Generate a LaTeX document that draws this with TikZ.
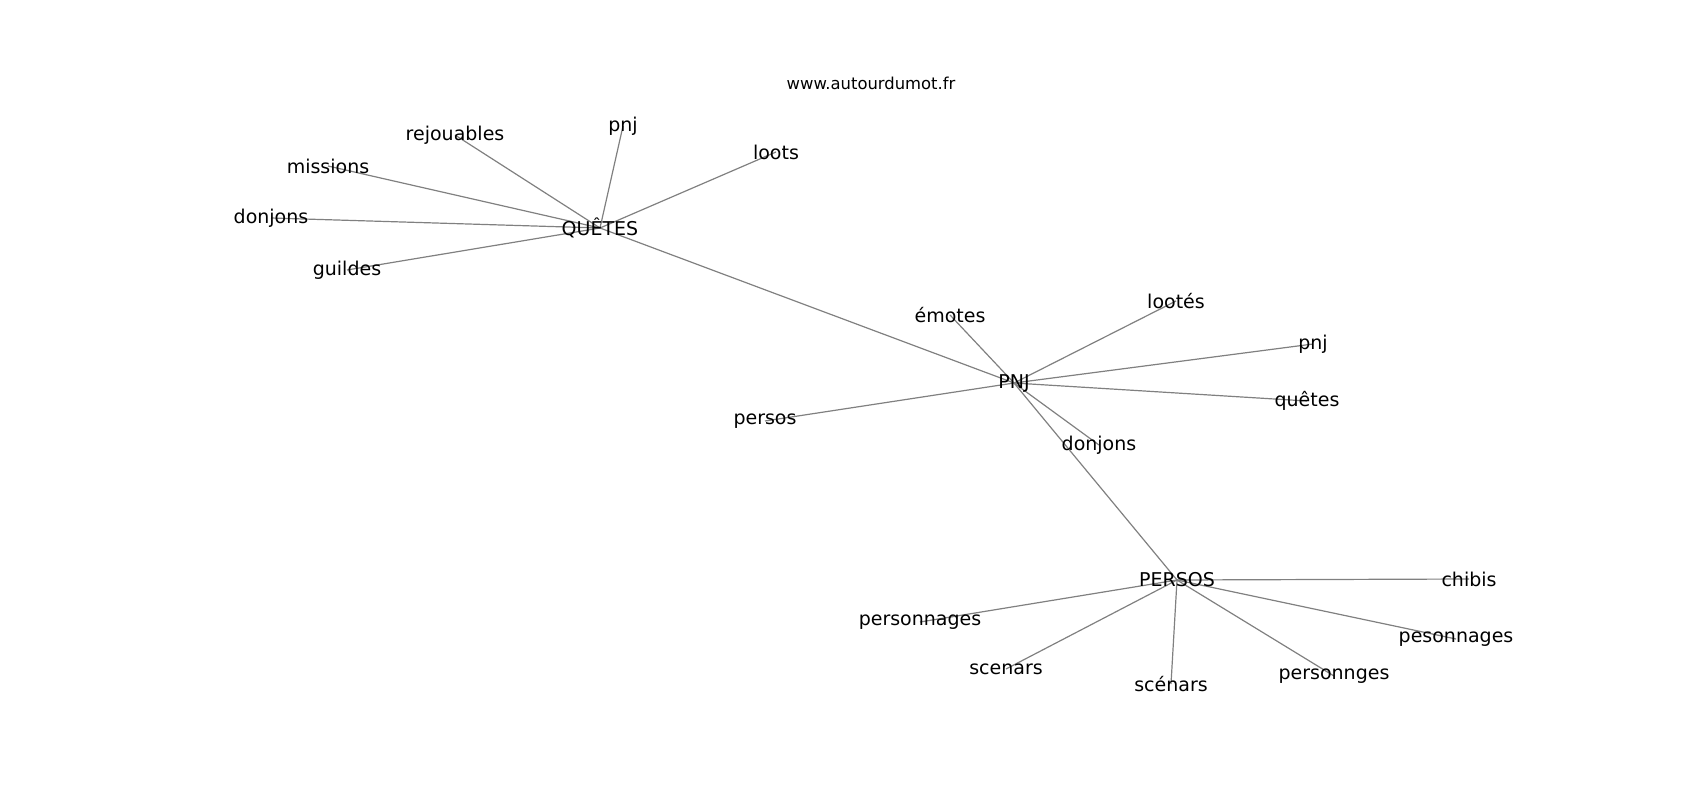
\documentclass[tikz,border=0pt]{standalone}
\usepackage{fontspec}
\setmainfont{DejaVu Sans}
\usetikzlibrary{positioning, backgrounds}
\definecolor{lien}{HTML}{808080}
\tikzstyle{mot} = [inner sep=0pt, text=black, font=\fontsize{19}{22}\selectfont]
\tikzstyle{titre} = [inner sep=0pt, text=black, font=\fontsize{16.4}{19}\selectfont]
\tikzstyle{arete} = [draw=lien, line width=1.2pt]

\begin{document}
\begin{tikzpicture}[x=1pt, y=-1pt]
	\useasboundingbox (0,0) rectangle (1700,800);
	\node[titre] (site) at (871,83) {www.autourdumot.fr};
	% QUETES
	\node[mot] (quetes) at (600,228) {QUÊTES};
	\node[mot] (rejouables) at (455,135) {rejouables};
	\node[mot] (pnjq) at (623,126) {pnj};
	\node[mot] (loots) at (776,152) {loots};
	\node[mot] (missions) at (328,166) {missions};
	\node[mot] (donjonsq) at (271,218) {donjons};
	\node[mot] (guildes) at (347,270) {guildes};
	% PNJ
	\node[mot] (pnj) at (1014,383) {PNJ};
	\node[mot] (emotes) at (950,315) {émotes};
	\node[mot] (lootes) at (1176,301) {lootés};
	\node[mot] (pnjp) at (1313,344) {pnj};
	\node[mot] (quetesp) at (1307,401) {quêtes};
	\node[mot] (persosp) at (765,421) {persos};
	\node[mot] (donjonsp) at (1099,445) {donjons};
	% PERSOS
	\node[mot] (persos) at (1177,580) {PERSOS};
	\node[mot] (chibis) at (1469,579) {chibis};
	\node[mot] (pesonnages) at (1456,639) {pesonnages};
	\node[mot] (personnges) at (1334,676) {personnges};
	\node[mot] (scenarsb) at (1171,684) {scénars};
	\node[mot] (scenars) at (1006,669) {scenars};
	\node[mot] (personnages) at (920,622) {personnages};
	\begin{scope}[on background layer]
		\foreach \a/\b in {quetes/rejouables, quetes/pnjq, quetes/loots, quetes/missions, quetes/donjonsq, quetes/guildes, quetes/pnj,
			pnj/emotes, pnj/lootes, pnj/pnjp, pnj/quetesp, pnj/persosp, pnj/donjonsp, pnj/persos,
			persos/chibis, persos/pesonnages, persos/personnges, persos/scenarsb, persos/scenars, persos/personnages}
			\draw[arete] (\a.center) -- (\b.center);
	\end{scope}
\end{tikzpicture}
\end{document}
